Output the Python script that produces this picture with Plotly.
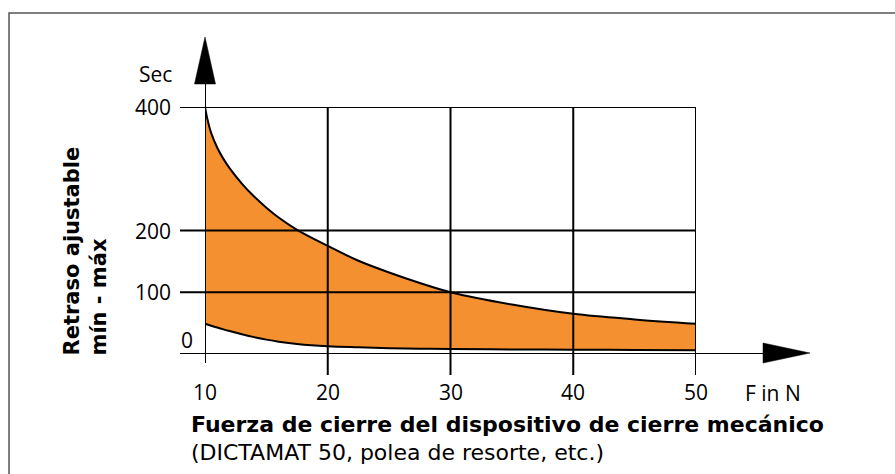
import plotly.graph_objects as go

# ---- data ----
force = [10, 10.2, 10.5, 11, 11.5, 12, 13, 14, 15, 16, 17.5, 20, 22.5, 25, 27.5, 30, 35, 40, 45, 50]
delay_max = [400, 380, 358, 334, 316, 301, 276, 255, 237, 221, 201, 175, 151, 132, 115, 100, 80, 65, 56, 49]
delay_min = [49, 47.7, 45.8, 42.8, 39.9, 37.1, 31.9, 27.3, 23.3, 20, 16.2, 12.5, 10.8, 9.5, 8.6, 8, 7.4, 7, 6.5, 6]
x_ticks = [10, 20, 30, 40, 50]
y_ticks = [100, 200, 400]

ORANGE = "#F4902F"
FONT = "Open Sans"
BOLD_FONT = "DejaVu Sans"

# plot area in pixels
L, R, T, B = 205, 696, 107, 354
W, H = R - L, B - T
FW, FH = 895, 474


def px(p):
    return (p - L) / W


def py(p):
    return (B - p) / H


fig = go.Figure()
fig.add_trace(go.Scatter(x=force, y=delay_min, mode="lines",
                         line=dict(color="black", width=2, shape="spline", smoothing=1),
                         hoverinfo="skip", showlegend=False))
fig.add_trace(go.Scatter(x=force, y=delay_max, mode="lines", fill="tonexty",
                         fillcolor=ORANGE,
                         line=dict(color="black", width=2, shape="spline", smoothing=1),
                         hoverinfo="skip", showlegend=False))

shapes = []
# horizontal grid lines
for v in y_ticks:
    shapes.append(dict(type="line", xref="paper", yref="y", x0=px(180), x1=1.0,
                       y0=v, y1=v, line=dict(color="black", width=2), layer="above"))
# vertical grid lines with tick below axis
for v in x_ticks[1:]:
    shapes.append(dict(type="line", xref="x", yref="paper", x0=v, x1=v,
                       y0=py(375), y1=1.0, line=dict(color="black", width=2), layer="above"))
# y axis line
shapes.append(dict(type="line", xref="x", yref="paper", x0=x_ticks[0], x1=x_ticks[0],
                   y0=py(363), y1=py(84), line=dict(color="black", width=2), layer="above"))
# x axis line
shapes.append(dict(type="line", xref="paper", yref="y", x0=px(180), x1=px(765),
                   y0=0, y1=0, line=dict(color="black", width=2), layer="above"))
# arrows
shapes.append(dict(type="path", xref="paper", yref="paper",
                   path=f"M {px(194.5)} {py(84)} L {px(205)} {py(37)} L {px(215.5)} {py(84)} Z",
                   fillcolor="black", line=dict(color="black", width=0.5), layer="above"))
shapes.append(dict(type="path", xref="paper", yref="paper",
                   path=f"M {px(763)} {py(343)} L {px(810)} {py(353)} L {px(763)} {py(363)} Z",
                   fillcolor="black", line=dict(color="black", width=0.5), layer="above"))
# outer frame
shapes.append(dict(type="rect", xref="paper", yref="paper",
                   x0=px(9), x1=px(900), y0=py(480), y1=py(13),
                   line=dict(color="#555555", width=1.5), layer="above"))

ann = []
tick_font = dict(family=FONT, size=21, color="black")
for v in y_ticks:
    ann.append(dict(xref="paper", yref="y", x=px(173), y=v, text=str(v),
                    xanchor="right", yanchor="middle", showarrow=False, font=tick_font))
ann.append(dict(xref="paper", yref="paper", x=px(187), y=py(340), text="0",
                xanchor="center", yanchor="middle", showarrow=False, font=tick_font))
ann.append(dict(xref="paper", yref="paper", x=px(174), y=py(74), text="Sec",
                xanchor="right", yanchor="middle", showarrow=False, font=tick_font))
for v in x_ticks:
    ann.append(dict(xref="x", yref="paper", x=v, y=py(392), text=str(v),
                    xanchor="center", yanchor="middle", showarrow=False, font=tick_font))
ann.append(dict(xref="paper", yref="paper", x=px(773), y=py(393), text="F in N",
                xanchor="center", yanchor="middle", showarrow=False, font=tick_font))
ann.append(dict(xref="paper", yref="paper", x=px(189), y=py(424),
                text="<b>Fuerza de cierre del dispositivo de cierre mecánico</b>",
                xanchor="left", yanchor="middle", showarrow=False,
                font=dict(family=BOLD_FONT, size=22, color="black")))
ann.append(dict(xref="paper", yref="paper", x=px(189), y=py(452),
                text="(DICTAMAT 50, polea de resorte, etc.)",
                xanchor="left", yanchor="middle", showarrow=False,
                font=dict(family=BOLD_FONT, size=22, color="black")))
ann.append(dict(xref="paper", yref="paper", x=px(85), y=py(358),
                text="<b>Retraso ajustable<br>mín - máx</b>", textangle=-90, align="left",
                xanchor="center", yanchor="bottom", showarrow=False,
                font=dict(family=BOLD_FONT, size=21, color="black")))

fig.update_layout(
    width=FW, height=FH,
    margin=dict(l=L, r=FW - R, t=T, b=FH - B, pad=0),
    paper_bgcolor="white", plot_bgcolor="rgba(0,0,0,0)",
    xaxis=dict(range=[10, 50], visible=False, fixedrange=True),
    yaxis=dict(range=[0, 400], visible=False, fixedrange=True),
    shapes=shapes, annotations=ann, showlegend=False,
)
fig.write_html("out.html", config={"displayModeBar": False},
               post_script="document.body.style.margin='0';document.body.style.overflow='hidden';")
